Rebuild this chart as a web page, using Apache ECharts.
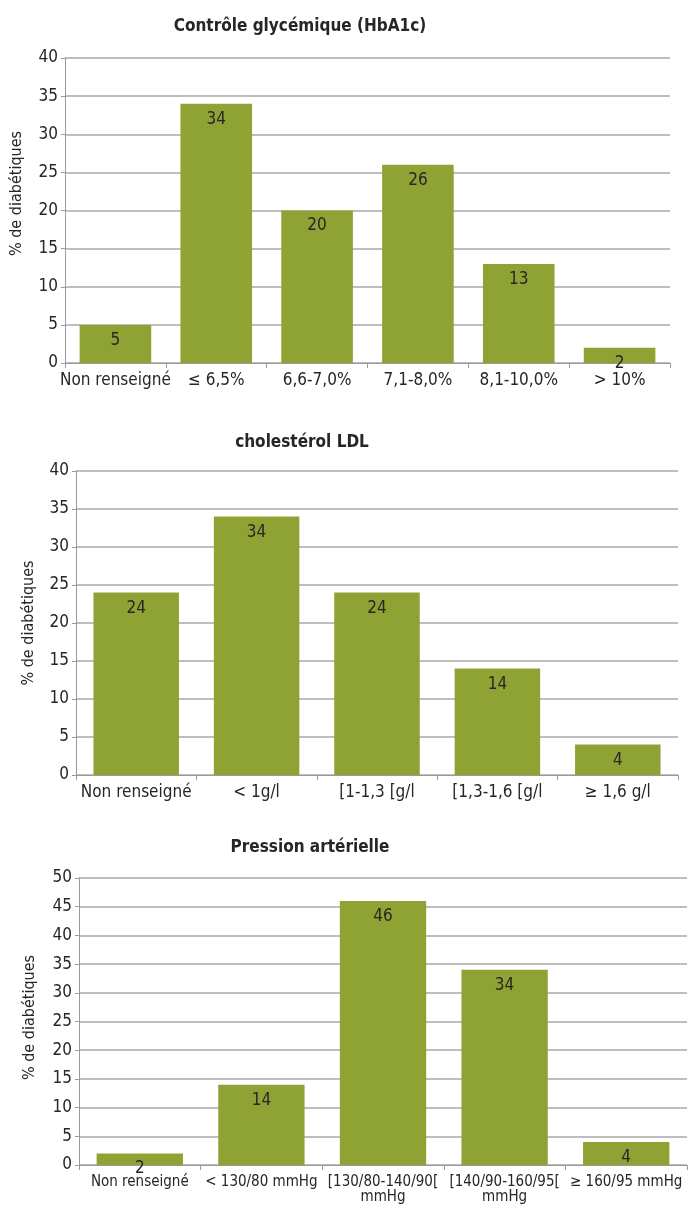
<!DOCTYPE html>
<html>
<head>
<meta charset="utf-8">
<script src="https://cdn.jsdelivr.net/npm/echarts@6/dist/echarts.min.js"></script>
<style>
  html, body { margin: 0; padding: 0; background: #fff; }
  #chart { width: 696px; height: 1210px; }
</style>
</head>
<body>
<div id="chart"></div>
<script>
// Contrôle glycémique (HbA1c)
const hba1cCategories = ['Non renseigné', '≤ 6,5%', '6,6-7,0%', '7,1-8,0%', '8,1-10,0%', '> 10%'];
const hba1cValues = [5, 34, 20, 26, 13, 2];

// Cholestérol LDL
const ldlCategories = ['Non renseigné', '< 1g/l', '[1-1,3 [g/l', '[1,3-1,6 [g/l', '≥ 1,6 g/l'];
const ldlValues = [24, 34, 24, 14, 4];

// Pression artérielle
const paCategories = ['Non renseigné', '< 130/80 mmHg', '[130/80-140/90[\nmmHg', '[140/90-160/95[\nmmHg', '≥ 160/95 mmHg'];
const paValues = [2, 14, 46, 34, 4];

const titles = ['Contrôle glycémique (HbA1c)', 'cholestérol LDL', 'Pression artérielle'];
const yAxisName = '% de diabétiques';

const FONT = '"DejaVu Sans Condensed", "Liberation Sans", sans-serif';
const BAR = '#8fa334';
const TEXT = '#262626';
const AXIS = '#9a9a9a';

// one panel per indicator, stacked vertically
const panels = [
  { cats: hba1cCategories, vals: hba1cValues, max: 40, grid: { left: 65, top: 58, width: 605, height: 305 },
    title: { left: 295, top: 13 }, nameGap: 40, namePad: [0, 0, 0, 34], xFont: 17 },
  { cats: ldlCategories, vals: ldlValues, max: 40, grid: { left: 76, top: 471, width: 602, height: 304 },
    title: { left: 297, top: 429 }, nameGap: 39, namePad: [0, 0, 0, 0], xFont: 17 },
  { cats: paCategories, vals: paValues, max: 50, grid: { left: 79, top: 878, width: 608, height: 287 },
    title: { left: 305, top: 834 }, nameGap: 41, namePad: [0, 0, 0, 8], xFont: 15 }
];

const option = {
  animation: false,
  backgroundColor: '#fff',
  textStyle: { fontFamily: FONT },
  title: panels.map((p, i) => ({
    text: titles[i],
    left: p.title.left,
    top: p.title.top,
    textAlign: 'center',
    textStyle: { fontFamily: FONT, fontSize: 17, fontWeight: 'bold', color: TEXT }
  })),
  grid: panels.map(p => Object.assign({ containLabel: false }, p.grid)),
  xAxis: panels.map((p, i) => ({
    type: 'category',
    gridIndex: i,
    data: p.cats,
    axisLine: { lineStyle: { color: AXIS, width: 1 } },
    axisTick: { show: true, length: 5, lineStyle: { color: AXIS } },
    axisLabel: { color: TEXT, fontSize: p.xFont, fontFamily: FONT, margin: 10, interval: 0, lineHeight: 15 }
  })),
  yAxis: panels.map((p, i) => ({
    type: 'value',
    gridIndex: i,
    min: 0,
    max: p.max,
    interval: 5,
    name: yAxisName,
    nameLocation: 'middle',
    nameRotate: 90,
    nameGap: p.nameGap,
    nameTextStyle: { color: TEXT, fontSize: 16, fontFamily: FONT, padding: p.namePad },
    axisLine: { show: true, lineStyle: { color: AXIS, width: 1 } },
    axisTick: { show: true, length: 4, lineStyle: { color: AXIS } },
    axisLabel: { color: TEXT, fontSize: 17, fontFamily: FONT, margin: 7 },
    splitLine: { show: true, lineStyle: { color: '#a8a8a8', width: 1.5 } }
  })),
  series: panels.map((p, i) => ({
    type: 'bar',
    xAxisIndex: i,
    yAxisIndex: i,
    data: p.vals,
    barCategoryGap: '29%',
    itemStyle: { color: BAR },
    label: {
      show: true,
      position: 'insideTop',
      distance: 7,
      color: TEXT,
      fontSize: 17,
      fontFamily: FONT
    }
  }))
};

const chart = echarts.init(document.getElementById('chart'), null, { renderer: 'canvas' });
chart.setOption(option);
</script>
</body>
</html>
